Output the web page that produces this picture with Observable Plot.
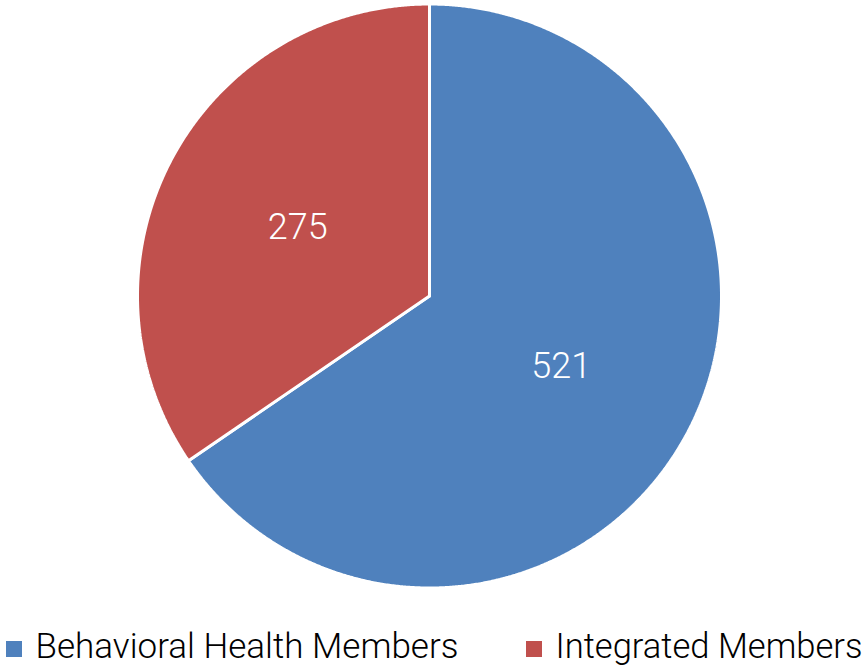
<!DOCTYPE html>
<html><head><meta charset="utf-8">
<script src="https://cdn.jsdelivr.net/npm/d3@7"></script>
<script src="https://cdn.jsdelivr.net/npm/@observablehq/plot@0.6"></script>
<style>body{margin:0;background:#fff}</style>
</head><body><div id="chart"></div>
<script>
const categories = ["Behavioral Health Members", "Integrated Members"];
const values = [521, 275];
const colors = ["#4F81BD", "#C0504D"];

// layout (pixels)
const W = 868, H = 667, cx = 429, cy = 295.5, R = 292;
const arcs = d3.pie().sort(null).value(d => d)(values);

const polyPts = [];
arcs.forEach((a, i) => {
  const n = Math.max(2, Math.ceil((a.endAngle - a.startAngle) / 0.005));
  polyPts.push({cat: categories[i], x: cx, y: cy});
  for (let k = 0; k <= n; k++) {
    const t = a.startAngle + (a.endAngle - a.startAngle) * k / n;
    polyPts.push({cat: categories[i], x: cx + R * Math.sin(t), y: cy - R * Math.cos(t)});
  }
  polyPts.push({cat: categories[i], x: cx, y: cy});
});

const labels = arcs.map((a, i) => {
  const m = (a.startAngle + a.endAngle) / 2;
  return {text: String(values[i]), x: cx + 0.51 * R * Math.sin(m), y: cy - 0.51 * R * Math.cos(m)};
});

const legendX = [6, 526];
const legend = categories.map((c, i) => ({cat: c, x: legendX[i], y: 649}));

const plot = Plot.plot({
  width: W, height: H,
  margin: 0,
  x: {domain: [0, W], range: [0, W], axis: null},
  y: {domain: [0, H], range: [0, H], axis: null},
  color: {domain: categories, range: colors},
  marks: [
    Plot.line(polyPts, {x: "x", y: "y", z: "cat", fill: "cat", stroke: "white", strokeWidth: 3, strokeLinejoin: "miter", curve: "linear"}),
    Plot.text(labels, {x: "x", y: "y", text: "text", fill: "white", fontSize: 36, fontWeight: 300, fontFamily: "Roboto", dy: 1}),
    Plot.rect(legend, {x1: "x", x2: d => d.x + 16, y1: d => d.y - 8, y2: d => d.y + 8, fill: "cat"}),
    Plot.text(legend, {x: d => d.x + 29, y: d => d.y - 3, text: "cat", textAnchor: "start", fill: "#000", fontSize: 35, fontWeight: 300, fontFamily: "Roboto", className: "legtext"})
  ]
});
document.getElementById("chart").appendChild(plot);
const lens = [423, 307];
d3.select(plot).selectAll(".legtext text").each(function(d, i) {
  this.setAttribute("textLength", lens[i]);
  this.setAttribute("lengthAdjust", "spacingAndGlyphs");
});
</script>
</body></html>
